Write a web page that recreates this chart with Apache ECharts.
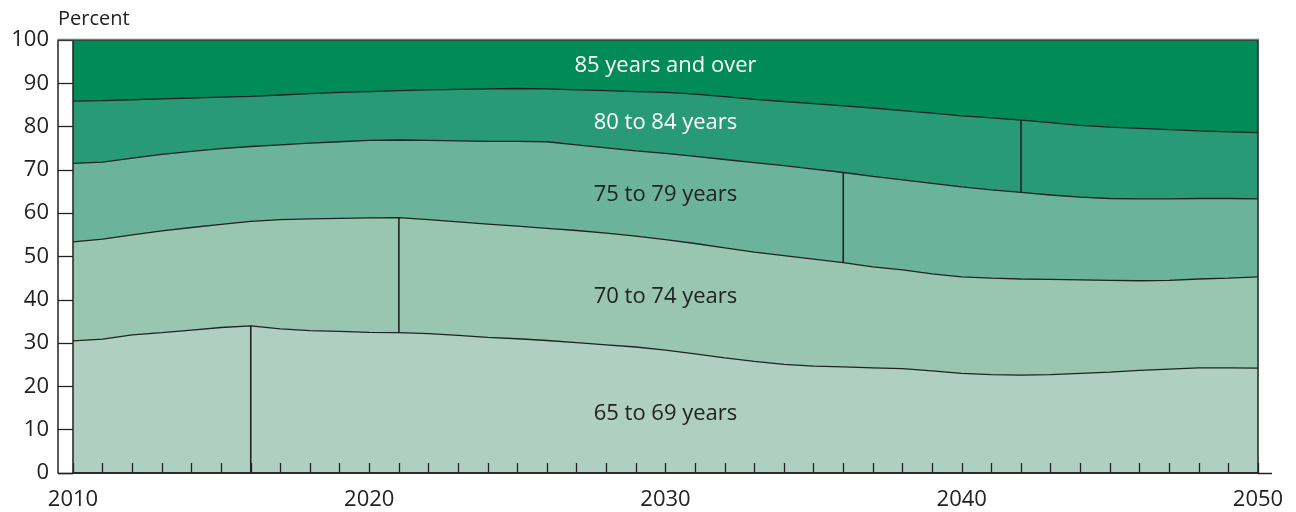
<!DOCTYPE html>
<html>
<head>
<meta charset="utf-8">
<script src="https://cdn.jsdelivr.net/npm/echarts@6/dist/echarts.min.js"></script>
<style>html,body{margin:0;padding:0;background:#fff}#c{width:1296px;height:512px}</style>
</head>
<body>
<div id="c"></div>
<script>
const years = [];
for (let y = 2010; y <= 2050; y++) years.push(y);

const groupNames = ['65 to 69 years', '70 to 74 years', '75 to 79 years', '80 to 84 years', '85 years and over'];

const age65to69 = [30.5,30.9,31.9,32.4,33.0,33.6,34.0,33.3,32.9,32.7,32.5,32.4,32.2,31.8,31.3,31.0,30.6,30.1,29.6,29.1,28.4,27.5,26.6,25.8,25.1,24.7,24.5,24.3,24.1,23.6,23.0,22.7,22.6,22.7,23.0,23.3,23.7,24.0,24.3,24.3,24.2];
const age70to74 = [22.9,23.1,23.1,23.5,23.7,23.8,24.1,25.2,25.8,26.1,26.4,26.6,26.3,26.2,26.2,26.0,25.9,25.9,25.8,25.6,25.5,25.5,25.4,25.2,25.1,24.7,24.1,23.3,22.8,22.4,22.3,22.3,22.2,22.0,21.6,21.2,20.7,20.5,20.5,20.7,21.1];
const age75to79 = [18.1,17.8,17.7,17.7,17.6,17.5,17.3,17.3,17.5,17.7,17.9,17.9,18.3,18.7,19.1,19.6,20.0,19.8,19.7,19.7,19.9,20.1,20.4,20.7,20.8,20.8,20.8,20.9,20.8,20.9,20.8,20.4,20.0,19.5,19.1,18.9,18.9,18.8,18.6,18.4,18.0];
const age80to84 = [14.4,14.2,13.5,12.8,12.3,11.9,11.6,11.5,11.4,11.4,11.3,11.4,11.7,11.9,12.1,12.2,12.2,12.7,13.2,13.7,14.1,14.4,14.5,14.6,14.8,15.1,15.4,15.8,16.0,16.2,16.4,16.6,16.7,16.7,16.6,16.5,16.3,16.0,15.6,15.4,15.3];
const age85plus = [14.1,14.0,13.8,13.6,13.4,13.2,13.0,12.7,12.4,12.1,11.9,11.7,11.5,11.4,11.3,11.2,11.3,11.5,11.7,11.9,12.1,12.5,13.1,13.7,14.2,14.7,15.2,15.7,16.3,16.9,17.5,18.0,18.5,19.1,19.7,20.1,20.4,20.7,21.0,21.2,21.4];

// Divider markers: year and the age group (index) they cross
const markerYears = [2016, 2021, 2036, 2042];
const markerGroups = [0, 1, 2, 3];

const yTicks = [0,10,20,30,40,50,60,70,80,90,100];
const xTickLabels = [2010, 2020, 2030, 2040, 2050];

const groups = [age65to69, age70to74, age75to79, age80to84, age85plus];
const colors = ['#afcfc2', '#99c6b1', '#6bb39b', '#289b76', '#008b58'];
const textColors = ['#222', '#222', '#222', '#fff', '#fff'];
const labelAt = [13.8, 40.6, 64.2, 80.8, 94.0];

// cumulative tops of each age group
const cum = [];
groups.forEach((g, k) => {
  cum.push(g.map((v, i) => +(((k ? cum[k-1][i] : 0) + v).toFixed(2))));
});

const series = [];
// draw top group first so lower groups paint over it
for (let k = groups.length - 1; k >= 0; k--) {
  series.push({
    name: groupNames[k],
    type: 'line',
    data: cum[k].map((v, i) => [years[i], v]),
    showSymbol: false,
    symbol: 'none',
    lineStyle: { color: '#222', width: k === groups.length - 1 ? 0 : 1.3 },
    areaStyle: { color: colors[k], opacity: 1, origin: 'start' },
    z: 2,
    silent: true
  });
}
// group labels
groups.forEach((g, k) => {
  series.push({
    type: 'scatter',
    data: [[2030, labelAt[k]]],
    symbolSize: 1,
    itemStyle: { color: 'rgba(0,0,0,0)' },
    label: { show: true, position: 'inside', formatter: groupNames[k], color: textColors[k], opacity: 1, fontSize: 22, fontFamily: 'Open Sans' },
    z: 6, silent: true
  });
});
// divider lines
markerYears.forEach((yr, m) => {
  const i = years.indexOf(yr);
  const k = markerGroups[m];
  const lo = k ? cum[k-1][i] : 0;
  const hi = cum[k][i];
  series.push({
    type: 'line',
    data: [[yr, lo], [yr, hi]],
    showSymbol: false, symbol: 'none',
    lineStyle: { color: '#222', width: 1.6 },
    z: 5, silent: true
  });
});

const chart = echarts.init(document.getElementById('c'));
chart.setOption({
  animation: false,
  grid: { left: 73, right: 38, top: 40, bottom: 39, show: true, borderColor: '#222', borderWidth: 1.5, backgroundColor: 'transparent', z: 8 },
  xAxis: {
    type: 'value', min: 2010, max: 2050, interval: 10, z: 9,
    axisLine: { show: true, lineStyle: { color: '#222', width: 1.5 } },
    axisTick: { show: true, inside: true, length: 10, lineStyle: { color: '#222', width: 1.3 } },
    minorTick: { show: true, splitNumber: 10, length: 10, lineStyle: { color: '#222', width: 1.3 } },
    splitLine: { show: false },
    axisLabel: { color: '#222', fontSize: 22, fontFamily: 'Open Sans', margin: 16,
      formatter: v => xTickLabels.includes(v) ? String(v) : '' }
  },
  yAxis: {
    type: 'value', min: 0, max: 100, interval: 10, offset: 15, z: 9,
    axisLine: { show: true, lineStyle: { color: '#222', width: 1.5 } },
    axisTick: { show: true, inside: true, length: 15, lineStyle: { color: '#222', width: 1.3 } },
    splitLine: { show: false },
    axisLabel: { color: '#222', fontSize: 22, fontFamily: 'Open Sans', margin: 9,
      formatter: v => yTicks.includes(v) ? String(v) : '' }
  },
  graphic: [
    { type: 'text', left: 58, top: 9, style: { text: 'Percent', fontSize: 20, fontFamily: 'Open Sans', fill: '#222' } },
    { type: 'line', shape: { x1: 58, y1: 39.5, x2: 1259, y2: 39.5 }, style: { stroke: '#777', lineWidth: 1.5 }, z: 10 },
    { type: 'line', shape: { x1: 1258, y1: 473.5, x2: 1272, y2: 473.5 }, style: { stroke: '#222', lineWidth: 1.5 }, z: 10 },
    { type: 'line', shape: { x1: 58, y1: 473.5, x2: 73, y2: 473.5 }, style: { stroke: '#222', lineWidth: 1.5 }, z: 10 }
  ],
  series: series
});
</script>
</body>
</html>
